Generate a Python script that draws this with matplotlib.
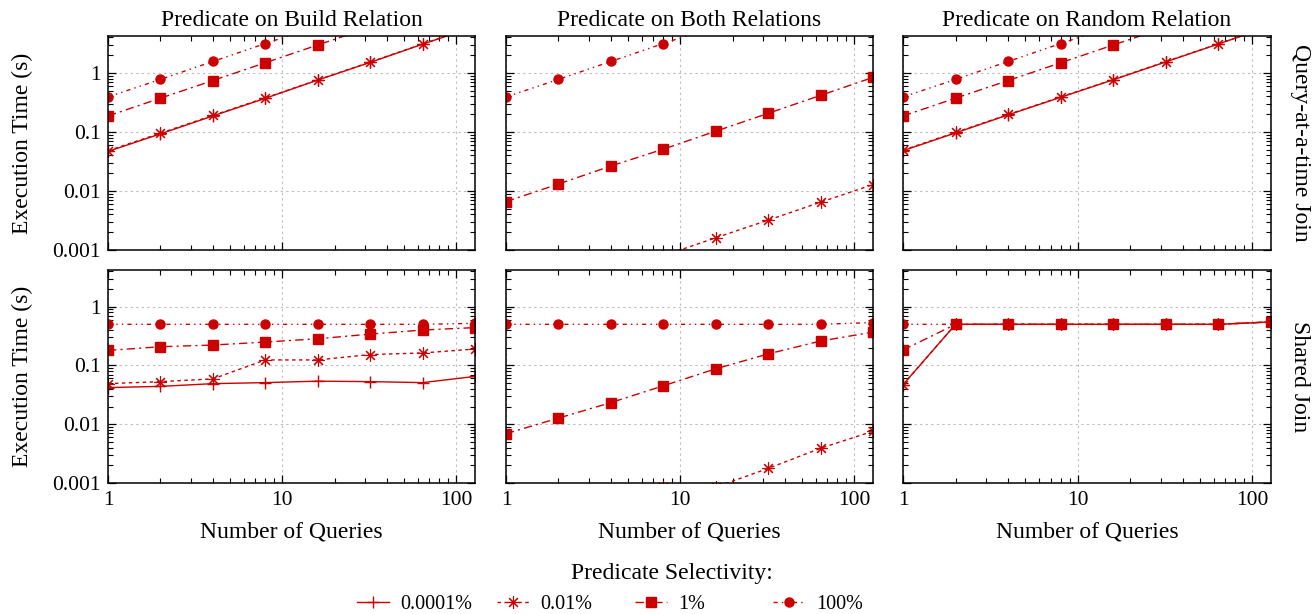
import matplotlib
matplotlib.use("Agg")
import matplotlib.pyplot as plt
from matplotlib.ticker import FuncFormatter, LogLocator

plt.rcParams["font.family"] = ["Liberation Serif", "DejaVu Serif"]
plt.rcParams["font.size"] = 14.5

# ---------------------------------------------------------------- data
queries = [1, 2, 4, 8, 16, 32, 64, 128]
selectivities = ["0.0001%", "0.01%", "1%", "100%"]
col_titles = ["Predicate on Build Relation", "Predicate on Both Relations",
              "Predicate on Random Relation"]
row_titles = ["Query-at-a-time Join", "Shared Join"]

# query-at-a-time join, one list per selectivity (None = off the chart)
qat_build_00001 = [0.0466, 0.0925, 0.186, 0.37, 0.753, 1.50, 3.05, 6.1]
qat_build_001 = [0.048, 0.095, 0.19, 0.376, 0.76, 1.52, 3.08, 6.2]
qat_build_1 = [0.186, 0.372, 0.74, 1.48, 2.96, 5.9, 11.8, 23.6]
qat_build_100 = [0.39, 0.774, 1.556, 3.13, 6.2, 12.4, 24.8, 49.6]

qat_both_00001 = [None] * 8
qat_both_001 = [0.0001, 0.0002, 0.0004, 0.0008, 0.00161, 0.0032, 0.00645, 0.0128]
qat_both_1 = [0.0066, 0.0131, 0.0264, 0.051, 0.1026, 0.206, 0.415, 0.836]
qat_both_100 = [0.39, 0.774, 1.556, 3.13, 6.2, 12.4, 24.8, 49.6]

qat_rand_00001 = [0.048, 0.096, 0.194, 0.385, 0.762, 1.53, 3.08, 6.2]
qat_rand_001 = [0.049, 0.098, 0.197, 0.39, 0.77, 1.55, 3.1, 6.2]
qat_rand_1 = [0.186, 0.372, 0.74, 1.48, 2.96, 5.9, 11.8, 23.6]
qat_rand_100 = [0.39, 0.774, 1.556, 3.13, 6.2, 12.4, 24.8, 49.6]

# shared join
sh_build_00001 = [0.042, 0.044, 0.049, 0.051, 0.054, 0.053, 0.051, 0.065]
sh_build_001 = [0.049, 0.053, 0.059, 0.124, 0.124, 0.153, 0.163, 0.19]
sh_build_1 = [0.18, 0.208, 0.222, 0.25, 0.284, 0.341, 0.40, 0.44]
sh_build_100 = [0.50, 0.50, 0.50, 0.50, 0.50, 0.50, 0.50, 0.52]

sh_both_00001 = [None] * 8
sh_both_001 = [0.0001, 0.0002, 0.0004, 0.00085, 0.00085, 0.00177, 0.0039, 0.0076]
sh_both_1 = [0.0069, 0.0127, 0.0233, 0.045, 0.0875, 0.157, 0.26, 0.369]
sh_both_100 = [0.50, 0.50, 0.50, 0.50, 0.50, 0.50, 0.50, 0.537]

sh_rand_00001 = [0.047, 0.50, 0.50, 0.50, 0.50, 0.50, 0.50, 0.55]
sh_rand_001 = [0.047, 0.50, 0.50, 0.50, 0.50, 0.50, 0.50, 0.55]
sh_rand_1 = [0.183, 0.50, 0.50, 0.50, 0.50, 0.50, 0.50, 0.55]
sh_rand_100 = [0.50, 0.50, 0.50, 0.50, 0.50, 0.50, 0.50, 0.55]

panels = [
    [[qat_build_00001, qat_build_001, qat_build_1, qat_build_100],
     [qat_both_00001, qat_both_001, qat_both_1, qat_both_100],
     [qat_rand_00001, qat_rand_001, qat_rand_1, qat_rand_100]],
    [[sh_build_00001, sh_build_001, sh_build_1, sh_build_100],
     [sh_both_00001, sh_both_001, sh_both_1, sh_both_100],
     [sh_rand_00001, sh_rand_001, sh_rand_1, sh_rand_100]],
]

# ---------------------------------------------------------------- style
RED = "#cc0000"
LABEL_FS = 17
TICK_FS = 15.5
LEGEND_FS = 14.5
styles = [
    dict(ls="-", marker="+", ms=9, mew=1.0),
    dict(ls=(0, (2.5, 2.5)), marker=(8, 2, 0), ms=9, mew=0.8),
    dict(ls=(0, (6, 3, 1.5, 3)), marker="s", ms=6.5),
    dict(ls=(0, (3, 3, 1, 3, 1, 3)), marker="o", ms=6.5),
]

W, H = 1315, 614
lefts, rights = [108, 506, 903], [475, 873, 1271]
tops, bottoms = [36, 270], [250, 483]

fig = plt.figure(figsize=(W / 100, H / 100), dpi=100)
fmt = FuncFormatter(lambda v, p: f"{v:g}")
handles = []

for r in range(2):
    for c in range(3):
        ax = fig.add_axes([lefts[c] / W, 1 - bottoms[r] / H,
                           (rights[c] - lefts[c]) / W, (bottoms[r] - tops[r]) / H])
        for s, (vals, st) in enumerate(zip(panels[r][c], styles)):
            pts = [(q, v) for q, v in zip(queries, vals) if v is not None]
            if not pts:
                continue
            xs, ys = zip(*pts)
            ln, = ax.plot(xs, ys, color=RED, lw=1.0, mfc=RED, mec=RED,
                          label=selectivities[s], **st)
            if r == 0 and c == 0:
                handles.append(ln)
        ax.set_xscale("log")
        ax.set_yscale("log")
        ax.set_xlim(1, 128)
        ax.set_ylim(0.001, 4.2)
        ax.xaxis.set_minor_locator(LogLocator(subs=range(2, 10)))
        ax.yaxis.set_minor_locator(LogLocator(subs=range(2, 10)))
        ax.xaxis.set_major_formatter(fmt)
        ax.yaxis.set_major_formatter(fmt)
        ax.grid(True, which="major", color="#bbbbbb", ls=(0, (2, 3)), lw=0.8)
        ax.tick_params(which="both", direction="in", top=True, right=True,
                       labelsize=TICK_FS)
        ax.tick_params(which="major", length=6, width=0.9)
        ax.tick_params(which="minor", length=3.5, width=0.8)
        ax.tick_params(axis="y", pad=5)
        ax.tick_params(axis="x", pad=6)
        for sp in ax.spines.values():
            sp.set_linewidth(1.1)
        if c > 0:
            ax.tick_params(axis="y", labelleft=False)
        if r == 0:
            ax.tick_params(axis="x", labelbottom=False)
            ax.set_title(col_titles[c], fontsize=LABEL_FS, pad=7)
        else:
            ax.set_xlabel("Number of Queries", fontsize=LABEL_FS, labelpad=8)
        if c == 0:
            fig.text(22 / W, 1 - (tops[r] + bottoms[r]) / 2 / H, "Execution Time (s)",
                     rotation=90, ha="center", va="center", fontsize=LABEL_FS)
        if c == 2:
            fig.text(1300 / W, 1 - (tops[r] + bottoms[r]) / 2 / H, row_titles[r],
                     rotation=270, ha="center", va="center", fontsize=LABEL_FS)

fig.text(672 / W, 1 - 574 / H, "Predicate Selectivity:", ha="center", va="center",
         fontsize=LABEL_FS)
for h, x0 in zip(handles, [357, 497, 635, 773]):
    fig.legend(handles=[h], labels=[h.get_label()], loc="center left",
               bbox_to_anchor=(x0 / W, 1 - 604 / H), frameon=False,
               handlelength=1.6, handletextpad=0.55, borderpad=0, borderaxespad=0,
               numpoints=1, fontsize=LEGEND_FS)

fig.savefig("out.png", dpi=100)
